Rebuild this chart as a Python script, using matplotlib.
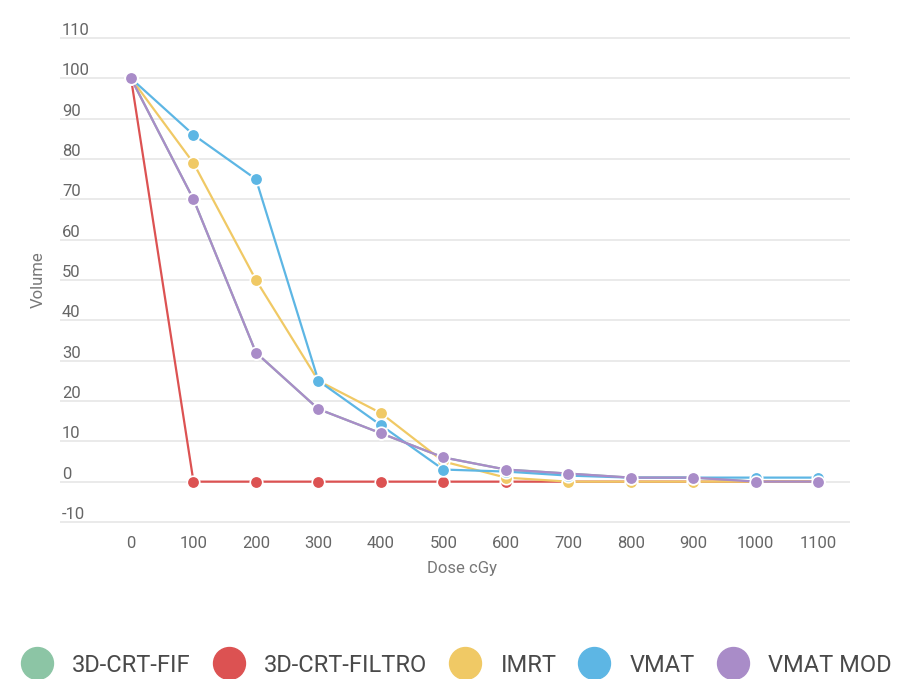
import matplotlib
matplotlib.use("Agg")
import matplotlib.pyplot as plt
from matplotlib.lines import Line2D

plt.rcParams['font.family'] = ['Roboto', 'DejaVu Sans']
plt.rcParams['axes.unicode_minus'] = False

dose = [0, 100, 200, 300, 400, 500, 600, 700, 800, 900, 1000, 1100]
crt_fif = [100, 70, 32, 18, 12, 6, 3, 2, 1, 1, 0, 0]
crt_filtro = [100, 0, 0, 0, 0, 0, 0, 0, 0, 0, 0, 0]
imrt = [100, 79, 50, 25, 17, 5, 1, 0, 0, 0, 0, 0]
vmat = [100, 86, 75, 25, 14, 3, 2.5, 1.5, 1, 1, 1, 1]
vmat_mod = [100, 70, 32, 18, 12, 6, 3, 2, 1, 1, 0, 0]

names = ['3D-CRT-FIF', '3D-CRT-FILTRO', 'IMRT', 'VMAT', 'VMAT MOD']
colors = ['#8cc5a5', '#dc5252', '#f0c965', '#5db6e4', '#a98cc8']
series = [crt_fif, crt_filtro, imrt, vmat, vmat_mod]

fig = plt.figure(figsize=(9.05, 6.79), dpi=100)
# axes spans the gridlines, labels sit on top of them at the left
ax = fig.add_axes([60 / 905, 1 - 526 / 679, 790 / 905, 492 / 679])

for vals, c in zip(series, colors):
    ax.plot(dose, vals, color=c, lw=1.6, marker='o', markersize=9,
            markeredgecolor='white', markeredgewidth=1.2, zorder=3)

ax.set_ylim(-11, 111)
ax.set_xlim(-113.7, 1151)
ax.set_yticks(range(-10, 111, 10))
ax.set_xticks(dose)
ax.grid(axis='y', color='#e6e6e6', lw=1.2)
ax.set_axisbelow(True)
for s in ax.spines.values():
    s.set_visible(False)
ax.tick_params(length=0, colors='#666666', labelsize=12)
ax.tick_params(axis='y', pad=-1.5)
ax.tick_params(axis='x', pad=7)
for lbl in ax.get_yticklabels():
    lbl.set_horizontalalignment('left')
    lbl.set_verticalalignment('bottom')

ax.set_xlabel('Dose cGy', color='#777777', fontsize=12)
ax.set_ylabel('Volume', color='#777777', fontsize=12)
ax.xaxis.set_label_coords(0.509, -0.071)
ax.yaxis.set_label_coords(-0.018, 0.5)

handles = [Line2D([], [], ls='none', marker='o', markersize=23, color=c) for c in colors]
fig.legend(handles, names, loc='center', bbox_to_anchor=(456 / 905, 1 - 665 / 679), ncol=5,
           frameon=False, fontsize=17, handlelength=1.4, handletextpad=0.8,
           columnspacing=0.9, labelcolor='#4a4a4a', borderpad=0)

fig.savefig('out.png', dpi=100)
